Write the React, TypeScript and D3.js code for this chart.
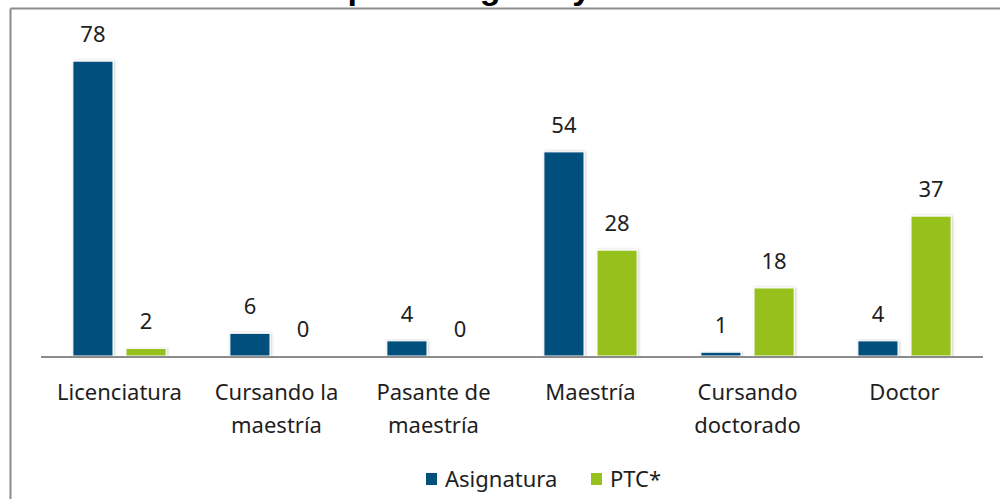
import React from 'react';
import { scaleBand, scaleLinear } from 'd3';

const categories = [
  'Licenciatura',
  'Cursando la\nmaestría',
  'Pasante de\nmaestría',
  'Maestría',
  'Cursando\ndoctorado',
  'Doctor',
];
const seriesNames = ['Asignatura', 'PTC*'];
const asignatura = [78, 6, 4, 54, 1, 4];
const ptc = [2, 0, 0, 28, 18, 37];
const seriesColors = ['#02507c', '#96c11f'];
const title = 'Gráfica 1. Profesores por categoría y nivel de estudios de los académicos';

const W = 1000;
const H = 499;
const baseY = 356;
const left = 41;
const right = 983;

const App = () => {
  const x0 = scaleBand<string>().domain(categories).range([left, right]).padding(0);
  const x1 = scaleBand<string>()
    .domain(seriesNames)
    .range([0, x0.bandwidth()])
    .paddingInner(0.245)
    .paddingOuter(0.6);
  const y = scaleLinear().domain([0, 80]).range([baseY, baseY - 80 * 3.78]);

  const values = [asignatura, ptc];
  const font = '"Noto Sans", sans-serif';

  return (
    <svg
      width={W}
      height={H}
      style={{ position: 'absolute', left: 0, top: 0, background: '#fff' }}
    >
      <defs>
        <filter id="shadow" x="-30%" y="-10%" width="160%" height="120%">
          <feDropShadow dx="1" dy="0" stdDeviation="1.6" floodColor="#000" floodOpacity="0.22" />
        </filter>
      </defs>

      {/* title, cut off at the top edge as in the source */}
      <text x={-4} y={-1} fontFamily='"Liberation Sans", Arial, sans-serif' fontWeight="bold" fontSize={34} fill="#000">
        {title}
      </text>

      {/* frame */}
      <line x1={10.5} x2={W} y1={8.5} y2={8.5} stroke="#8c8c8c" strokeWidth={2} />
      <line x1={10.5} x2={10.5} y1={8.5} y2={H} stroke="#8c8c8c" strokeWidth={2} />

      {/* bars */}
      {categories.map((c, i) => (
        <g key={c} transform={`translate(${x0(c)},0)`}>
          {seriesNames.map((s, k) => {
            const v = values[k][i];
            const bx = x1(s)!;
            return (
              <g key={s}>
                {v > 0 && (
                  <rect
                    x={bx}
                    y={y(v)}
                    width={x1.bandwidth()}
                    height={baseY - y(v)}
                    fill={seriesColors[k]}
                    stroke="#fff"
                    strokeWidth={1}
                    filter="url(#shadow)"
                  />
                )}
                <text
                  x={bx + x1.bandwidth() / 2}
                  y={y(v) - 19}
                  textAnchor="middle"
                  fontFamily={font}
                  fontSize={22}
                  fill="#1e1e1e"
                >
                  {v}
                </text>
              </g>
            );
          })}
        </g>
      ))}

      {/* axis */}
      <line x1={left} x2={right} y1={baseY + 1} y2={baseY + 1} stroke="#8c8c8c" strokeWidth={2} />

      {/* category labels */}
      {categories.map((c) => (
        <text
          key={c}
          x={x0(c)! + x0.bandwidth() / 2}
          y={400}
          textAnchor="middle"
          fontFamily={font}
          fontSize={22}
          fill="#1e1e1e"
        >
          {c.split('\n').map((line, j) => (
            <tspan key={j} x={x0(c)! + x0.bandwidth() / 2} dy={j === 0 ? 0 : 33}>
              {line}
            </tspan>
          ))}
        </text>
      ))}

      {/* legend */}
      {seriesNames.map((s, k) => {
        const lx = [426, 591][k];
        return (
          <g key={s}>
            <rect x={lx} y={473} width={11} height={12} fill={seriesColors[k]} />
            <text x={lx + 19} y={487} fontFamily={font} fontSize={22} fill="#1e1e1e">
              {s}
            </text>
          </g>
        );
      })}
    </svg>
  );
};

export default App;
